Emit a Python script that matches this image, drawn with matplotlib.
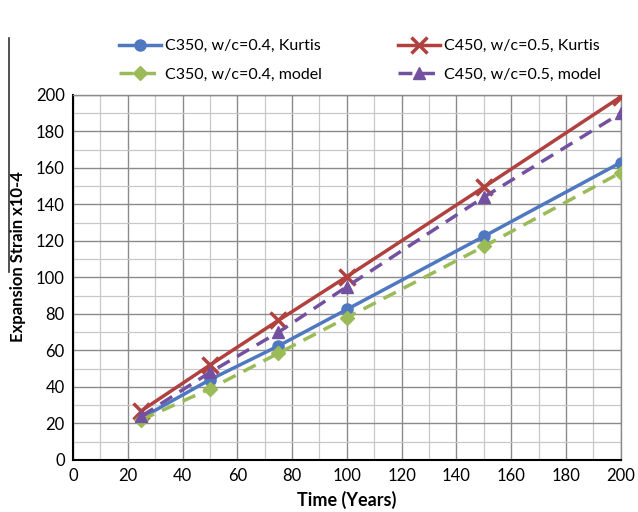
import matplotlib
matplotlib.use("Agg")
import matplotlib.pyplot as plt
from matplotlib.ticker import MultipleLocator
from matplotlib.lines import Line2D

years = [25, 50, 75, 100, 150, 200]
c350_kurtis = [23, 44, 62.5, 82.5, 122.5, 163]
c450_kurtis = [27, 52, 76.5, 100.5, 149.5, 199]
c350_model = [22, 39, 58.5, 78, 117, 157.5]
c450_model = [24, 48, 70, 95, 144, 190]

labels = ["C350, w/c=0.4, Kurtis", "C450, w/c=0.5, Kurtis",
          "C350, w/c=0.4, model", "C450, w/c=0.5, model"]
xticks = list(range(0, 201, 20))
yticks = list(range(0, 201, 20))

plt.rcParams['font.family'] = ['Lato', 'DejaVu Sans']

fig = plt.figure(figsize=(6.38, 5.12), dpi=100)
ax = fig.add_axes([0.1144, 0.1016, 0.8586, 0.7129])

blue = '#4F78C0'
red = '#B0413E'
green = '#9BBB59'
purple = '#7351A0'

l1, = ax.plot(years, c350_kurtis, color=blue, lw=2.5, marker='o', ms=8, label=labels[0], zorder=4)
l2, = ax.plot(years, c450_kurtis, color=red, lw=2.5, marker='x', ms=11, mew=2.5, label=labels[1], zorder=4)
l3, = ax.plot(years, c350_model, color=green, lw=2.5, ls=(0, (4, 2.5)), marker='D', ms=7, label=labels[2], zorder=4)
l4, = ax.plot(years, c450_model, color=purple, lw=2.5, ls=(0, (4, 2.5)), marker='^', ms=9, label=labels[3], zorder=4)

ax.set_xlim(0, 200)
ax.set_ylim(0, 200)
ax.set_xticks(xticks)
ax.set_yticks(yticks)
ax.xaxis.set_minor_locator(MultipleLocator(10))
ax.yaxis.set_minor_locator(MultipleLocator(10))
ax.grid(which='major', color='#8a8a8a', lw=1.0)
ax.grid(which='minor', color='#c8c8c8', lw=0.9)
ax.set_axisbelow(True)
ax.tick_params(which='both', length=0, labelsize=12, pad=6)
for s in ['left', 'bottom']:
    ax.spines[s].set_color('black')
    ax.spines[s].set_linewidth(1.5)
for s in ['top', 'right']:
    ax.spines[s].set_color('#8a8a8a')
    ax.spines[s].set_linewidth(1.0)

ax.set_xlabel('Time (Years)', fontsize=13, fontweight='bold', labelpad=5)
ax.set_ylabel('Expansion Strain x10-4', fontsize=12, fontweight='bold')
ax.yaxis.set_label_coords(-0.086, 0.556)

fig.legend([l1, l3, l2, l4], [labels[0], labels[2], labels[1], labels[3]],
           loc='upper left', bbox_to_anchor=(0.164, 0.952),
           ncol=2, frameon=False, fontsize=11.5, handlelength=2.65, handletextpad=0.2,
           columnspacing=4.8, labelspacing=0.9)

fig.add_artist(Line2D([9/638, 9/638], [1-38/512, 1-272/512], color='#333333', lw=1.2,
                      transform=fig.transFigure))

fig.savefig('out.png', dpi=100)
